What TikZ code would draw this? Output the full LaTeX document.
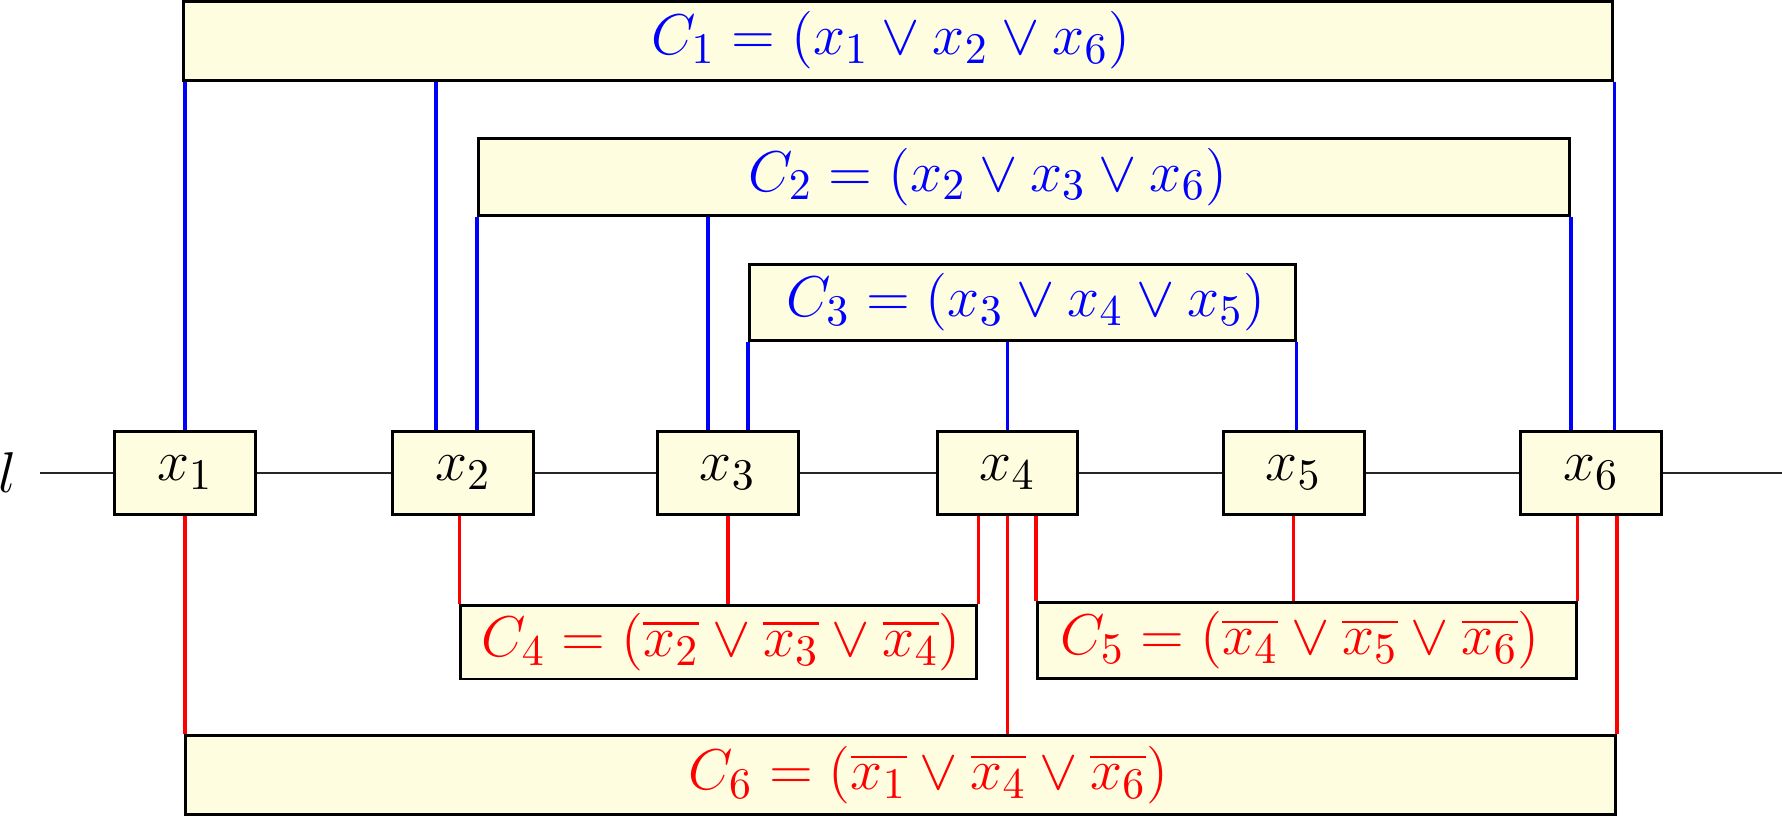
\documentclass[tikz,border=0pt]{standalone}
\usepackage{amsmath}
\definecolor{boxfill}{RGB}{255,253,224}
\begin{document}
\begin{tikzpicture}[
  var/.style={draw=black, line width=0.75pt, fill=boxfill, minimum width=1.24cm,
    minimum height=0.735cm, inner sep=0pt, font=\fontsize{15.2}{18}\selectfont},
  clause/.style={draw=black, line width=0.75pt, fill=boxfill, inner sep=0pt},
  ctext/.style={font=\fontsize{15.2}{18}\selectfont, inner sep=0pt},
  poswire/.style={blue, line width=0.9pt},
  negwire/.style={red, line width=0.9pt}]
\useasboundingbox (0,0) rectangle (15.68,-7.19);

% the line l with its variables
\node[inner sep=0pt, font=\fontsize{15.2}{18}\selectfont] (lname) at (0.07,-4.16) {$l$};
\coordinate (lstart) at (0.35,-4.16);
\coordinate (lend) at (15.68,-4.16);
\node[var] (x1) at (1.628,-4.16) {$x_1$};
\node[var] (x2) at (4.074,-4.16) {$x_2$};
\node[var] (x3) at (6.404,-4.16) {$x_3$};
\node[var] (x4) at (8.865,-4.16) {$x_4$};
\node[var] (x5) at (11.382,-4.16) {$x_5$};
\node[var] (x6) at (13.999,-4.16) {$x_6$};
\draw[line width=0.5pt, black!85] (lstart) -- (x1) -- (x2) -- (x3) -- (x4) -- (x5) -- (x6) -- (lend);

% positive clauses
\node[clause, minimum width=12.575cm, minimum height=0.695cm,
  label={[ctext, blue, xshift=-0.066cm]center:$C_1 = (x_1 \vee x_2 \vee x_6)$}] (c1) at (7.904,-0.357) {};
\node[clause, minimum width=9.6cm, minimum height=0.678cm,
  label={[ctext, blue, xshift=-0.314cm]center:$C_2 = (x_2 \vee x_3 \vee x_6)$}] (c2) at (9.009,-1.556) {};
\node[clause, minimum width=4.803cm, minimum height=0.671cm,
  label={[ctext, blue, xshift=0.03cm]center:$C_3 = (x_3 \vee x_4 \vee x_5)$}] (c3) at (8.994,-2.662) {};

% negative clauses
\node[clause, minimum width=4.54cm, minimum height=0.651cm,
  label={[ctext, red, xshift=0.02cm]center:$C_4 = (\overline{x_2} \vee \overline{x_3} \vee \overline{x_4})$}] (c4) at (6.325,-5.649) {};
\node[clause, minimum width=4.737cm, minimum height=0.669cm,
  label={[ctext, red, xshift=-0.06cm]center:$C_5 = (\overline{x_4} \vee \overline{x_5} \vee \overline{x_6})$}] (c5) at (11.5,-5.635) {};
\node[clause, minimum width=12.58cm, minimum height=0.698cm,
  label={[ctext, red, xshift=0.245cm]center:$C_6 = (\overline{x_1} \vee \overline{x_4} \vee \overline{x_6})$}] (c6) at (7.925,-6.822) {};

% blue wires
\draw[poswire] (x1.north) -- (x1.north |- c1.south);
\draw[poswire] ([xshift=-0.236cm]x2.north) -- ([xshift=-0.236cm]x2.north |- c1.south);
\draw[poswire] (c2.south west) -- (c2.south west |- x2.north);
\draw[poswire] ([xshift=-0.175cm]x3.north) -- ([xshift=-0.175cm]x3.north |- c2.south);
\draw[poswire] (c3.south west) -- (c3.south west |- x3.north);
\draw[poswire] (x4.north) -- (x4.north |- c3.south);
\draw[poswire] (c3.south east) -- (c3.south east |- x5.north);
\draw[poswire] (c2.south east) -- (c2.south east |- x6.north);
\draw[poswire] (c1.south east) -- (c1.south east |- x6.north);

% red wires
\draw[negwire] (x1.south) -- (x1.south |- c6.north);
\draw[negwire] (c4.north west) -- (c4.north west |- x2.south);
\draw[negwire] (x3.south) -- (x3.south |- c4.north);
\draw[negwire] (c4.north east) -- (c4.north east |- x4.south);
\draw[negwire] (x4.south) -- (x4.south |- c6.north);
\draw[negwire] (c5.north west) -- (c5.north west |- x4.south);
\draw[negwire] (x5.south) -- (x5.south |- c5.north);
\draw[negwire] (c5.north east) -- (c5.north east |- x6.south);
\draw[negwire] (c6.north east) -- (c6.north east |- x6.south);
\end{tikzpicture}
\end{document}
